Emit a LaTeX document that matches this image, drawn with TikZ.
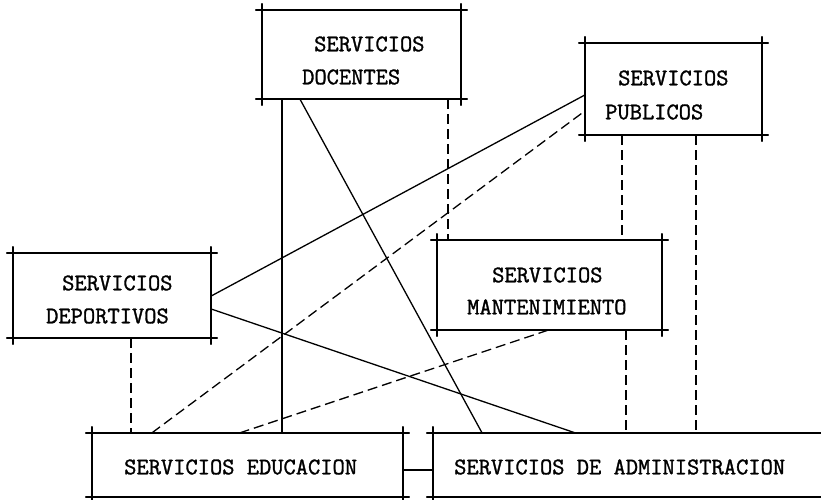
\documentclass[tikz,border=0pt]{standalone}
\usepackage{fontspec}
\newfontfamily\twfont[FakeBold=1.3]{Latin Modern Mono}
\usetikzlibrary{calc}
\tikzset{
  box/.style={draw=none, inner sep=0pt, minimum width=#1},
  frame/.style={line width=1.5pt, line cap=round},
  sline/.style={line width=1.3pt},
  dline/.style={line width=1.3pt, dash pattern=on 10pt off 5pt},
  lbl/.style={anchor=west, inner sep=0pt, font=\twfont\fontsize{23.8}{28}\selectfont}
}
\newcommand\xframe[1]{%
  \draw[frame] ($(#1.north west)+(-6,0)$) -- ($(#1.north east)+(6,0)$);
  \draw[frame] ($(#1.south west)+(-6,0)$) -- ($(#1.south east)+(6,0)$);
  \draw[frame] ($(#1.north west)+(0,-6)$) -- ($(#1.south west)+(0,6)$);
  \draw[frame] ($(#1.north east)+(0,-6)$) -- ($(#1.south east)+(0,6)$);
}
\begin{document}
\begin{tikzpicture}[x=1pt,y=-1pt]
\fill[white] (0,0) rectangle (821,499);
\useasboundingbox (0,0) rectangle (821,499);
% boxes
\node[box=199pt, minimum height=89pt] (doc) at (361.5,54.5) {};
\node[box=177pt, minimum height=92pt] (pub) at (673.5,89) {};
\node[box=198pt, minimum height=85pt] (dep) at (112,295.5) {};
\node[box=225pt, minimum height=90pt] (man) at (549.5,285) {};
\node[box=311pt, minimum height=64pt] (edu) at (247.5,465) {};
\node[box=398pt, minimum height=64pt] (adm) at (632,465) {};
\xframe{doc}
\xframe{pub}
\xframe{dep}
\xframe{man}
\xframe{edu}
\draw[frame] ($(adm.north west)+(-6,0)$) -- (adm.north east);
\draw[frame] ($(adm.south west)+(-6,0)$) -- (adm.south east);
\draw[frame] ($(adm.north west)+(0,-6)$) -- ($(adm.south west)+(0,6)$);
% labels
\node[lbl] (docA) at (314,44) {SERVICIOS};
\node[lbl] (docB) at (302,77) {DOCENTES};
\node[lbl] (pubA) at (618,78) {SERVICIOS};
\node[lbl] (pubB) at (605,112) {PUBLICOS};
\node[lbl] (depA) at (62,283) {SERVICIOS};
\node[lbl] (depB) at (46,316) {DEPORTIVOS};
\node[lbl] (manA) at (492,275) {SERVICIOS};
\node[lbl] (manB) at (467,307) {MANTENIMIENTO};
\node[lbl] (eduA) at (124,467) {SERVICIOS EDUCACION};
\node[lbl] (admA) at (454,467) {SERVICIOS DE ADMINISTRACION};
% connectors
\draw[sline] (282,0 |- doc.south) -- (282,0 |- edu.north);
\draw[dline] (448,0 |- doc.south) -- (448,0 |- man.north);
\draw[sline] (300,0 |- doc.south) -- (482,0 |- adm.north);
\draw[dline] (622,0 |- pub.south) -- (622,0 |- man.north);
\draw[dline] (626,0 |- man.south) -- (626,0 |- adm.north);
\draw[dline] (696,0 |- pub.south) -- (696,0 |- adm.north);
\draw[sline] (dep.east |- 0,296) -- (pub.west |- 0,95);
\draw[dline] (152,0 |- edu.north) -- (pub.west |- 0,111);
\draw[sline] (dep.east |- 0,309) -- (575,0 |- adm.north);
\draw[dline] (131,0 |- dep.south) -- (131,0 |- edu.north);
\draw[dline] (548,0 |- man.south) -- (240,0 |- edu.north);
\draw[sline] (edu.east |- 0,470) -- (adm.west |- 0,470);
\end{tikzpicture}
\end{document}
